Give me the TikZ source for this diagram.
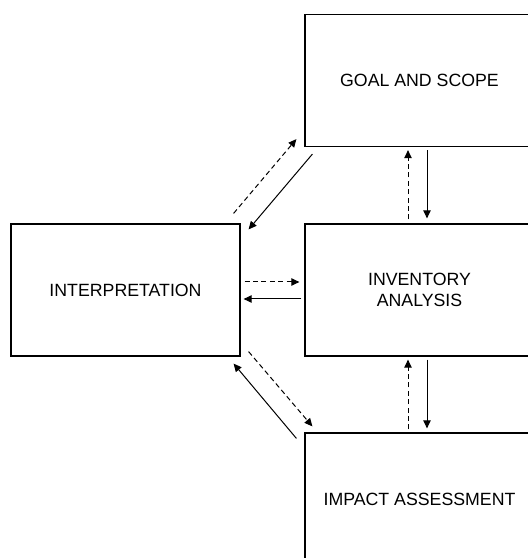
\documentclass[tikz,border=0pt]{standalone}
\usepackage{fontspec}
\setmainfont{Liberation Sans}
\usetikzlibrary{calc,arrows.meta}

\tikzset{
    stagebox/.style={draw, line width=0.9pt, minimum width=171.75pt, minimum height=99pt,
        align=center, inner sep=0pt, font=\fontsize{13.3pt}{15.75pt}\selectfont},
    fwd/.style={-{Triangle[length=6pt,width=5.5pt]}, line width=0.75pt, dash pattern=on 3.8pt off 2.5pt},
    bwd/.style={-{Triangle[length=6pt,width=5.5pt]}, line width=0.75pt}
}

\begin{document}
\begin{tikzpicture}[x=0.75pt, y=0.75pt]
                \clip (0,0) rectangle (528,558);
                \node[stagebox] (interp) at (125.5,268)   {INTERPRETATION};
                \node[stagebox] (goal)   at (419.5,477.5) {GOAL AND SCOPE};
                \node[stagebox] (inv)    at (419.5,268)   {INVENTORY\\ANALYSIS};
                \node[stagebox] (impact) at (419.5,59)    {IMPACT ASSESSMENT};
                \draw[fwd] ($(interp.north east)+(-7,10)$) -- ($(goal.south west)+(-8,8)$);
                \draw[bwd] ($(goal.south west)+(8,-7)$) -- ($(interp.north east)+(8,-6)$);
                \draw[fwd] ($(interp.east)+(4,8)$) -- ($(inv.west)+(-5,8)$);
                \draw[bwd] ($(inv.west)+(-3,-9)$) -- ($(interp.east)+(3,-9)$);
                \draw[fwd] ($(interp.south east)+(8,5)$) -- ($(impact.north west)+(8,6)$);
                \draw[bwd] ($(impact.north west)+(-8,-6)$) -- ($(interp.south east)+(-7,-7)$);
                \draw[fwd] ($(inv.north)+(-11.5,4)$) -- ($(goal.south)+(-11.5,-3)$);
                \draw[bwd] ($(goal.south)+(7.5,-3)$) -- ($(inv.north)+(7.5,5)$);
                \draw[fwd] ($(impact.north)+(-11.5,3)$) -- ($(inv.south)+(-11.5,-3)$);
                \draw[bwd] ($(inv.south)+(7.5,-3)$) -- ($(impact.north)+(7.5,4)$);
            \end{tikzpicture}
\end{document}
